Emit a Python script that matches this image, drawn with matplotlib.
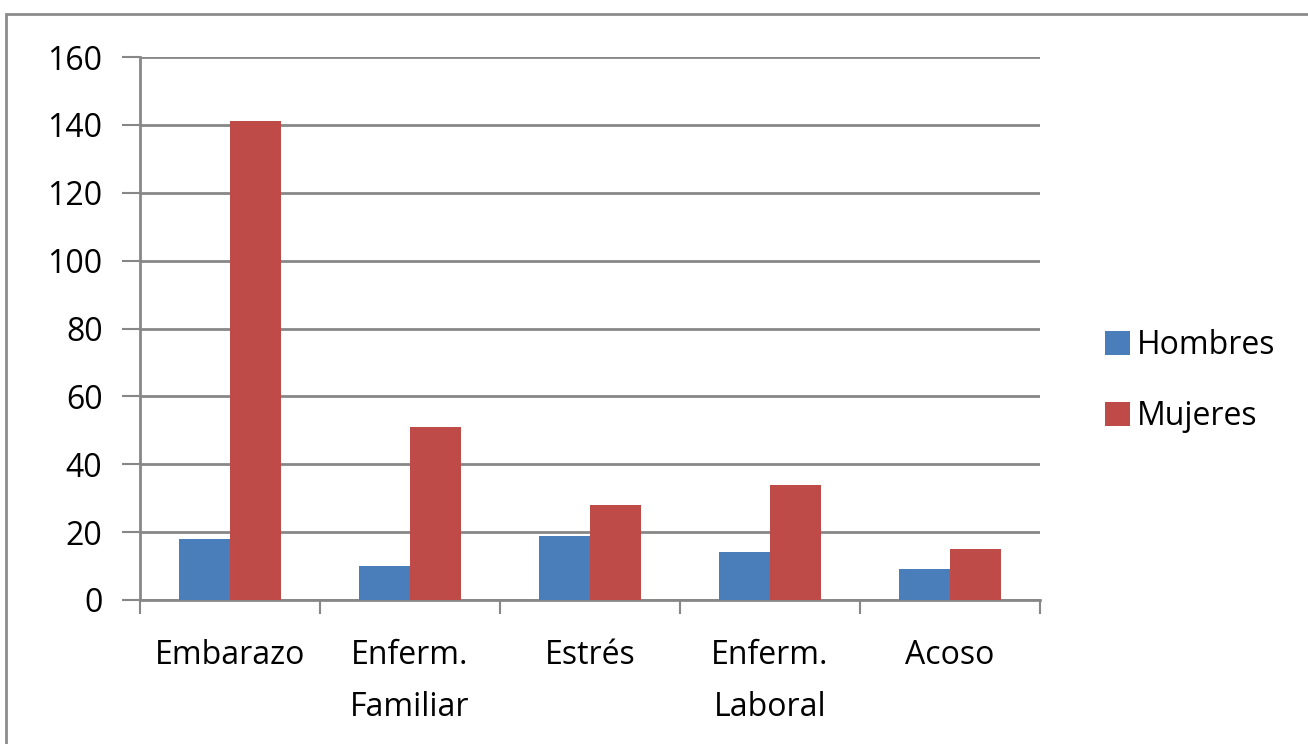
import numpy as np
import matplotlib
matplotlib.use('Agg')
import matplotlib.pyplot as plt
from matplotlib.patches import Rectangle

categorias = ["Embarazo", "Enferm.\nFamiliar", "Estrés", "Enferm.\nLaboral", "Acoso"]
hombres = [18, 10, 19, 14, 9]
mujeres = [141, 51, 28, 34, 15]
yticks = [0, 20, 40, 60, 80, 100, 120, 140, 160]

azul = "#4a7ebb"
rojo = "#be4b48"
gris = "#878787"

plt.rcParams['font.family'] = ['Open Sans', 'DejaVu Sans']

W, H = 1308, 744
fig = plt.figure(figsize=(W / 100, H / 100), dpi=100)
ax = fig.add_axes([140 / W, 1 - 600 / H, 900 / W, 543 / H])

x = np.arange(len(categorias))
bw = 0.283
ax.bar(x - bw / 2, hombres, bw, color=azul, label="Hombres", zorder=3)
ax.bar(x + bw / 2, mujeres, bw, color=rojo, label="Mujeres", zorder=3)

ax.set_xlim(-0.5, len(categorias) - 0.5)
ax.set_ylim(0, 160)
ax.set_yticks(yticks)
ax.set_yticklabels([str(v) for v in yticks], fontsize=23)
ax.yaxis.grid(True, color=gris, lw=2, zorder=1)

# category labels centred, tick marks on the group boundaries
ax.set_xticks(x)
ax.set_xticklabels(categorias, fontsize=23, linespacing=1.75, va="top")
ax.tick_params(axis='x', length=0, pad=28)
ax.set_xticks(np.arange(-0.5, len(categorias)), minor=True)
ax.tick_params(axis='x', which='minor', length=10, width=1.5, color=gris)
ax.tick_params(axis='y', length=13, width=1.5, color=gris, pad=14)

for s in ["top", "right"]:
    ax.spines[s].set_visible(False)
for s in ["left", "bottom"]:
    ax.spines[s].set_color(gris)
    ax.spines[s].set_linewidth(2)

ax.legend(loc="center left", bbox_to_anchor=(1076 / W, 1 - 381 / H),
          bbox_transform=fig.transFigure, frameon=False, fontsize=23,
          handlelength=0.8, handleheight=0.8, handletextpad=0.2,
          labelspacing=1.2)

# chart frame (right and bottom edges fall outside the image)
fig.patches.append(Rectangle((6 / W, -0.1), 1.2, 1 - 14 / H + 0.1,
                             transform=fig.transFigure, fill=False,
                             edgecolor="#8c8c8c", lw=2))

fig.savefig("out.png", dpi=100)
